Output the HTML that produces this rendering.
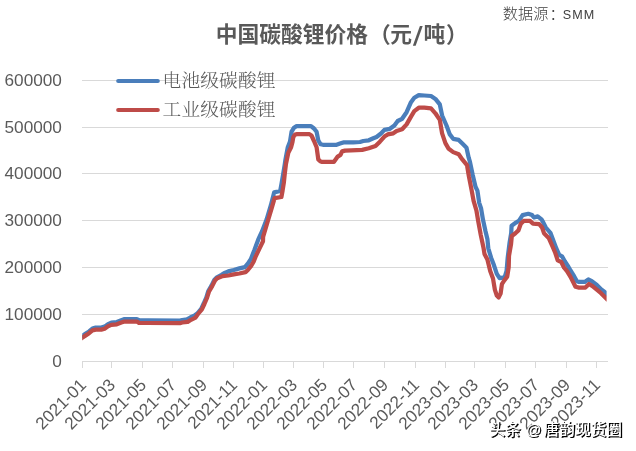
<!DOCTYPE html>
<html lang="zh-CN"><head><meta charset="utf-8"><title>中国碳酸锂价格</title>
<style>
html,body{margin:0;padding:0;background:#fff;}
body{width:636px;height:451px;overflow:hidden;position:relative;font-family:"Liberation Sans","Noto Sans CJK SC",sans-serif;}
svg{position:absolute;left:0;top:0;display:block;will-change:transform}
.ax{font-family:"Liberation Sans","Noto Sans CJK SC",sans-serif;font-size:17.2px;fill:#5a5a5a}
.title{font-family:"Liberation Sans","Noto Sans CJK SC",sans-serif;font-weight:bold;font-size:21.75px;fill:#595959}
.leg{font-family:"Liberation Serif","Noto Serif CJK SC",serif;font-weight:300;font-size:18.7px;letter-spacing:0.15px;fill:#595959}
.src{font-family:"Liberation Sans","Noto Sans CJK SC",sans-serif;font-weight:300;font-size:15.2px;fill:#404040}
.wm{font-family:"Liberation Sans","Noto Sans CJK SC",sans-serif;font-size:15.7px;font-weight:500}
</style></head><body>
<svg width="636" height="451" viewBox="0 0 636 451">
<rect x="0" y="0" width="636" height="451" fill="#ffffff"/>

<g fill="#d9d9d9" shape-rendering="crispEdges">
<rect x="82" y="80" width="526" height="1"/>
<rect x="82" y="127" width="526" height="1"/>
<rect x="82" y="173" width="526" height="1"/>
<rect x="82" y="220" width="526" height="1"/>
<rect x="82" y="267" width="526" height="1"/>
<rect x="82" y="314" width="526" height="1"/>
<rect x="82" y="361" width="526" height="1"/>
<rect x="82" y="361" width="1" height="7"/>
<rect x="111" y="361" width="1" height="7"/>
<rect x="142" y="361" width="1" height="7"/>
<rect x="172" y="361" width="1" height="7"/>
<rect x="203" y="361" width="1" height="7"/>
<rect x="233" y="361" width="1" height="7"/>
<rect x="263" y="361" width="1" height="7"/>
<rect x="293" y="361" width="1" height="7"/>
<rect x="323" y="361" width="1" height="7"/>
<rect x="353" y="361" width="1" height="7"/>
<rect x="384" y="361" width="1" height="7"/>
<rect x="415" y="361" width="1" height="7"/>
<rect x="445" y="361" width="1" height="7"/>
<rect x="474" y="361" width="1" height="7"/>
<rect x="505" y="361" width="1" height="7"/>
<rect x="535" y="361" width="1" height="7"/>
<rect x="566" y="361" width="1" height="7"/>
<rect x="596" y="361" width="1" height="7"/>
</g>
<g class="ax" text-anchor="end">
<text x="61.9" y="86.1">600000</text>
<text x="61.9" y="133.1">500000</text>
<text x="61.9" y="179.1">400000</text>
<text x="61.9" y="226.1">300000</text>
<text x="61.9" y="273.1">200000</text>
<text x="61.9" y="320.1">100000</text>
<text x="61.9" y="367.1">0</text>
</g>
<g class="ax" text-anchor="end">
<text transform="translate(87.2,386.0) rotate(-45)">2021-01</text>
<text transform="translate(116.2,386.0) rotate(-45)">2021-03</text>
<text transform="translate(147.2,386.0) rotate(-45)">2021-05</text>
<text transform="translate(177.2,386.0) rotate(-45)">2021-07</text>
<text transform="translate(208.2,386.0) rotate(-45)">2021-09</text>
<text transform="translate(238.2,386.0) rotate(-45)">2021-11</text>
<text transform="translate(268.2,386.0) rotate(-45)">2022-01</text>
<text transform="translate(298.2,386.0) rotate(-45)">2022-03</text>
<text transform="translate(328.2,386.0) rotate(-45)">2022-05</text>
<text transform="translate(358.2,386.0) rotate(-45)">2022-07</text>
<text transform="translate(389.2,386.0) rotate(-45)">2022-09</text>
<text transform="translate(420.2,386.0) rotate(-45)">2022-11</text>
<text transform="translate(450.2,386.0) rotate(-45)">2023-01</text>
<text transform="translate(479.2,386.0) rotate(-45)">2023-03</text>
<text transform="translate(510.2,386.0) rotate(-45)">2023-05</text>
<text transform="translate(540.2,386.0) rotate(-45)">2023-07</text>
<text transform="translate(571.2,386.0) rotate(-45)">2023-09</text>
<text transform="translate(601.2,386.0) rotate(-45)">2023-11</text>
</g>
<text class="title" y="42.3"><tspan x="215.8">中国碳酸锂价格</tspan><tspan x="369">（</tspan><tspan x="390.2">元</tspan><tspan x="423.4">吨</tspan><tspan x="446">）</tspan></text>
<text class="title" transform="translate(412.4,41.6) scale(1.3,0.92)" style="font-family:'Noto Sans CJK SC',sans-serif">/</text>
<text class="src" y="18.9"><tspan x="502.8">数据源</tspan><tspan x="549.6">：</tspan><tspan x="562.8" dy="0.2" font-size="12.6px" font-weight="400" letter-spacing="1.0px">SMM</tspan></text>
<g fill="none" stroke-width="4.25" stroke-linecap="round" stroke-linejoin="round">
<line x1="118.2" y1="81.0" x2="157.8" y2="81.0" stroke="#4a7ebb" stroke-width="4.1"/>
<line x1="118.2" y1="110.0" x2="157.8" y2="110.0" stroke="#be4b48" stroke-width="4.1"/>
<clipPath id="pc"><rect x="82.2" y="60" width="524.4" height="300"/></clipPath>
<g clip-path="url(#pc)">
<polyline stroke-linecap="butt" stroke="#4a7ebb" points="80.0,337.7 82.2,336.0 85.8,333.6 89.1,331.4 92.4,328.6 95.7,327.6 101.3,327.6 104.6,326.6 108.0,324.1 111.3,322.7 116.8,322.0 121.3,320.2 124.6,319.0 136.8,319.0 139.0,320.2 148.0,320.4 179.9,320.5 182.2,320.0 187.0,319.4 190.3,317.5 194.8,315.3 197.3,313.5 201.2,308.8 203.7,303.5 206.3,297.5 208.2,291.3 211.5,285.6 214.3,280.0 216.5,277.6 221.6,274.8 224.0,273.2 228.3,271.4 233.8,270.0 239.4,268.4 244.9,267.1 248.0,263.5 250.8,259.2 254.5,249.8 258.3,239.4 262.0,231.5 266.6,219.6 270.9,205.2 274.2,192.4 280.2,191.0 281.5,184.0 283.0,175.0 284.7,164.8 285.5,159.4 287.8,147.2 290.0,141.6 291.6,131.6 293.9,127.8 296.6,126.1 311.0,126.1 314.0,128.5 316.6,131.8 318.3,140.5 320.5,144.2 323.0,144.8 336.6,144.8 340.0,143.6 343.3,142.4 353.3,142.4 360.0,142.0 363.3,141.0 368.8,140.3 373.3,138.3 376.5,137.0 381.0,133.5 384.4,129.9 389.9,128.8 394.4,125.5 397.7,121.0 402.1,118.8 406.6,112.2 411.0,102.2 414.3,97.8 418.8,95.1 424.3,95.5 431.0,96.0 435.4,98.9 439.8,104.4 442.1,115.5 446.5,125.5 449.8,134.4 453.2,138.8 458.7,139.9 463.1,144.3 466.5,147.7 468.7,157.7 469.8,161.3 472.6,174.5 475.5,186.8 477.4,190.6 479.2,202.8 481.1,208.5 483.0,219.8 485.5,231.3 487.4,238.9 488.3,248.3 491.1,257.7 494.0,265.3 496.8,273.8 499.6,278.2 504.6,277.4 506.6,270.9 507.7,257.7 509.6,242.6 511.2,233.2 511.6,225.7 516.0,222.6 518.9,220.8 522.6,215.1 528.3,213.8 532.1,215.1 534.0,217.5 537.7,216.4 541.5,219.4 543.0,221.9 545.8,227.5 550.6,233.2 553.4,240.8 556.3,248.5 559.2,254.9 562.0,256.3 564.8,261.3 567.7,265.6 570.5,270.5 574.1,276.2 576.9,281.2 579.0,281.9 584.7,281.9 588.3,279.5 591.8,281.2 596.8,285.0 601.0,289.3 605.3,292.5 608.0,294.5"/>
<polyline stroke-linecap="butt" stroke="#be4b48" points="80.0,339.4 82.2,337.7 85.8,335.4 89.1,333.2 92.4,330.4 95.7,329.6 101.3,329.6 104.6,328.7 108.0,326.3 111.3,324.9 116.8,324.3 121.3,322.6 124.6,321.5 136.8,321.5 139.0,322.9 148.0,323.0 179.9,323.2 182.2,322.5 187.7,321.9 191.0,319.8 195.5,317.6 198.0,314.0 201.9,309.3 204.4,304.0 207.0,298.0 208.9,291.8 212.2,286.1 215.0,280.5 217.2,278.3 222.7,276.1 228.3,275.5 233.8,274.4 239.4,273.5 245.5,272.2 248.3,269.4 251.0,266.2 253.6,261.7 255.5,256.9 259.2,249.1 263.0,241.3 263.1,236.9 267.4,222.5 271.7,208.1 274.6,198.2 281.4,197.0 282.6,190.5 283.8,183.0 284.8,173.5 286.0,163.8 288.3,152.7 291.1,147.2 292.5,142.0 293.3,137.2 295.0,134.6 297.0,134.2 309.5,134.2 311.5,135.5 314.0,141.0 316.6,147.2 318.3,159.4 320.5,161.5 322.0,161.8 334.0,161.8 337.7,156.6 340.5,154.9 342.1,151.4 345.0,150.6 351.1,150.4 362.2,149.9 368.8,148.3 375.5,146.1 379.9,141.7 384.4,136.6 387.7,134.4 393.3,133.3 396.6,131.0 402.1,129.3 406.6,124.4 411.0,116.6 414.3,111.1 418.8,107.7 424.3,107.7 431.0,108.4 435.4,113.3 439.8,119.9 442.1,133.3 445.4,143.2 448.7,148.8 453.2,152.1 458.7,154.3 462.3,159.4 467.0,165.1 468.9,176.4 471.7,190.6 473.6,200.9 476.4,210.4 478.3,221.7 480.8,235.1 483.6,248.3 484.5,254.0 487.4,259.6 490.2,270.9 493.0,278.5 494.9,289.8 496.8,295.5 498.7,297.4 500.6,293.6 501.9,284.2 504.3,280.4 507.2,276.6 508.7,267.2 509.0,255.8 511.0,244.5 511.8,236.0 515.4,233.2 518.4,230.4 520.8,223.8 523.6,220.9 530.0,220.9 533.0,223.6 539.2,224.2 542.1,227.5 544.0,233.2 548.7,237.9 552.5,246.4 555.3,253.0 557.7,260.3 561.3,262.0 564.1,267.7 567.0,271.2 570.5,276.9 573.4,282.6 575.5,286.8 579.0,287.6 585.4,287.6 589.0,284.0 592.5,286.1 596.8,289.7 601.0,293.2 605.3,297.5 608.0,300.2"/>
</g>
</g>
<text class="leg" x="162.6" y="87.3">电池级碳酸锂</text>
<text class="leg" x="162.6" y="116.3">工业级碳酸锂</text>
<text class="wm" y="435.4" fill="#000" stroke="#000" stroke-width="0.25" transform="translate(1.1,1.1)"><tspan x="489.4">头条</tspan><tspan x="526" font-size="15.2px">@</tspan><tspan x="543.6">唐韵现货圈</tspan></text>
<text class="wm" y="435.4" fill="#fff"><tspan x="489.4">头条</tspan><tspan x="526" font-size="15.2px">@</tspan><tspan x="543.6">唐韵现货圈</tspan></text>
</svg>
</body></html>
